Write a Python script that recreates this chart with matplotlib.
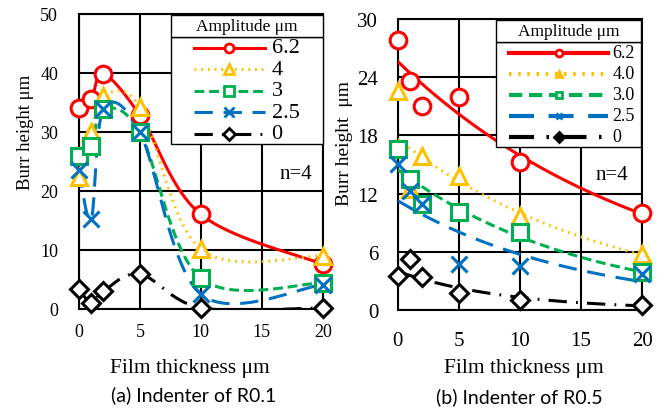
import numpy as np
import matplotlib
matplotlib.use("Agg")
import matplotlib.pyplot as plt
from matplotlib.lines import Line2D
from matplotlib.patches import Rectangle

# film thickness (um)
thickness = [0, 1, 2, 5, 10, 20]
amplitudes = ["6.2", "4", "3", "2.5", "0"]
amplitudes_b = ["6.2", "4.0", "3.0", "2.5", "0"]

# (a) indenter R0.1, burr height (um)
a_62 = [34.0, 35.5, 39.8, 32.8, 16.0, 7.6]
a_40 = [22.3, 30.0, 36.0, 34.2, 10.1, 9.0]
a_30 = [25.9, 27.6, 33.8, 29.9, 5.2, 4.4]
a_25 = [23.6, 15.2, 33.8, 29.9, 2.5, 4.1]
a_00 = [3.4, 1.0, 3.0, 5.9, 0.2, 0.2]

# (b) indenter R0.5, burr height (um)
b_62 = [27.8, 23.6, 21.0, 22.0, 15.3, 10.0]
b_40 = [22.6, 12.5, 15.9, 13.8, 9.7, 5.8]
b_30 = [16.6, 13.5, 10.9, 10.1, 8.0, 3.9]
b_25 = [15.0, 12.3, 10.9, 4.7, 4.5, 3.7]
b_00 = [3.5, 5.3, 3.4, 1.8, 1.0, 0.5]

colors = ["#FF0000", "#FFC000", "#00B050", "#0070C0", "#000000"]
markers = ["o", "^", "s", "x", "D"]
styles = ["-", (0, (0.6, 1.6)), (0, (3.2, 1.6)), (0, (6, 3.5)), (0, (6, 3, 0.6, 3))]
msizes = [12, 12, 11, 11, 9]

plt.rcParams["font.family"] = "Liberation Serif"


def smooth(xs, ys, n=40):
    # excel style smoothed line (catmull-rom bezier)
    p = np.column_stack([xs, ys]).astype(float)
    p = np.vstack([p[0], p, p[-1]])
    out = []
    t = np.linspace(0, 1, n)[:, None]
    for i in range(1, len(p) - 2):
        p0, p1, p2, p3 = p[i - 1], p[i], p[i + 1], p[i + 2]
        c1 = p1 + (p2 - p0) / 6
        c2 = p2 - (p3 - p1) / 6
        seg = ((1 - t) ** 3) * p1 + 3 * ((1 - t) ** 2) * t * c1 + 3 * (1 - t) * t ** 2 * c2 + t ** 3 * p2
        out.append(seg)
    out = np.vstack(out)
    return out[:, 0], out[:, 1]


def expfit(xs, ys):
    b, ln_a = np.polyfit(xs, np.log(ys), 1)
    xx = np.linspace(min(xs), max(xs), 100)
    return xx, np.exp(ln_a) * np.exp(b * xx)


def frame(ax, ymax, ystep, xpad, ypad, fs):
    ax.set_xlim(0, 20)
    ax.set_ylim(0, ymax)
    ax.set_xticks([0, 5, 10, 15, 20])
    ax.set_yticks(np.arange(0, ymax + 0.1, ystep))
    ax.grid(True, color="black", linewidth=1.5)
    ax.set_axisbelow(True)
    for s in ax.spines.values():
        s.set_linewidth(1.5)
    ax.tick_params(length=0, labelsize=fs)
    ax.tick_params(axis="x", pad=ypad)
    ax.tick_params(axis="y", pad=xpad)


def legend_box(ax, labels, box, title_h, top, step, lx0, lx1, tx, fs, tfs, lw, ms, mfill):
    x0, y0, x1, y1 = box
    ax.add_patch(Rectangle((x0, y0), x1 - x0, y1 - y0, transform=ax.transAxes,
                           facecolor="white", edgecolor="black", linewidth=1.0,
                           zorder=20, clip_on=False))
    ax.add_patch(Rectangle((x0, y1), x1 - x0, title_h, transform=ax.transAxes,
                           facecolor="white", edgecolor="black", linewidth=1.0,
                           zorder=20, clip_on=False))
    ax.text((x0 + x1) / 2, y1 + title_h / 2, "Amplitude μm", transform=ax.transAxes,
            ha="center", va="center", fontsize=tfs, zorder=22)
    for i, (c, m, ls, lb) in enumerate(zip(colors, markers, styles, labels)):
        y = top - i * step
        face = c if (mfill and m in "^D") else "white"
        ax.add_line(Line2D([lx0, (lx0 + lx1) / 2, lx1], [y, y, y], transform=ax.transAxes,
                           color=c, linestyle=ls, linewidth=lw, marker=m, markevery=[1],
                           markersize=ms, markerfacecolor=face, markeredgewidth=2.0,
                           zorder=21, clip_on=False))
        ax.text(tx, y, lb, transform=ax.transAxes, ha="left", va="center",
                fontsize=fs, zorder=22)


fig = plt.figure(figsize=(6.64, 4.10), dpi=100)
ax1 = fig.add_axes([0.119, 0.244, 0.367, 0.72])
ax2 = fig.add_axes([0.599, 0.2415, 0.368, 0.71])

# (a)
for ys, c, m, ls, ms in zip([a_62, a_40, a_30, a_25, a_00], colors, markers, styles, msizes):
    sx, sy = smooth(thickness, ys)
    ax1.plot(sx, sy, color=c, linestyle=ls, linewidth=2.2, zorder=3)
    ax1.plot(thickness, ys, linestyle="none", marker=m, markersize=ms, color=c,
             markerfacecolor="white", markeredgewidth=2.2, zorder=4, clip_on=False)
frame(ax1, 50, 10, 15, 10, 13)
legend_box(ax1, amplitudes, (0.377, 0.559, 1.0, 0.922), 0.075, 0.885, 0.073,
           0.470, 0.762, 0.79, 16, 12.5, 2.2, 6.5, False)
ax1.text(0.89, 0.46, "n=4", transform=ax1.transAxes, ha="center", va="center", fontsize=15)

# (b)
for ys, c, m, ls, ms in zip([b_62, b_40, b_30, b_25, b_00], colors, markers, styles, msizes):
    fx, fy = expfit(thickness, ys)
    ax2.plot(fx, fy, color=c, linestyle=ls, linewidth=2.2, zorder=3)
    ax2.plot(thickness, ys, linestyle="none", marker=m, markersize=ms, color=c,
             markerfacecolor="white", markeredgewidth=2.2, zorder=4, clip_on=False)
frame(ax2, 30, 6, 14, 15, 15)
legend_box(ax2, amplitudes_b, (0.402, 0.560, 0.996, 0.921), 0.076, 0.883, 0.072,
           0.456, 0.860, 0.878, 13, 12.5, 3.0, 5, True)
ax2.text(0.876, 0.465, "n=4", transform=ax2.transAxes, ha="center", va="center", fontsize=15)

fig.text(0.038, 0.676, "Burr height μm", rotation=90, ha="center", va="center", fontsize=13.5)
fig.text(0.519, 0.651, "Burr height  μm", rotation=90, ha="center", va="center", fontsize=14)
fig.text(0.286, 0.102, "Film thickness μm", ha="center", va="center", fontsize=15.5)
fig.text(0.789, 0.102, "Film thickness μm", ha="center", va="center", fontsize=15.5)
fig.text(0.292, 0.037, "(a) Indenter of R0.1", ha="center", va="center", fontsize=14,
         family="Lato")
fig.text(0.782, 0.032, "(b) Indenter of R0.5", ha="center", va="center", fontsize=14,
         family="Lato")

fig.savefig("out.png", dpi=100)
